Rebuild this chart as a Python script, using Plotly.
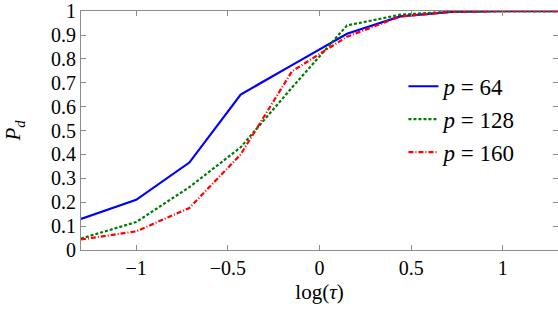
import plotly.graph_objects as go

log_tau = [-1.301, -1.0, -0.71, -0.43, -0.15, 0.15, 0.44, 0.72, 1.0, 1.301]
pd_64 = [0.13, 0.21, 0.366, 0.651, 0.774, 0.905, 0.978, 0.997, 1.0, 1.0]
pd_128 = [0.048, 0.117, 0.263, 0.43, 0.68, 0.94, 0.985, 0.998, 1.0, 1.0]
pd_160 = [0.044, 0.078, 0.176, 0.40, 0.748, 0.893, 0.977, 0.997, 1.0, 1.0]
y_ticks = [0, 0.1, 0.2, 0.3, 0.4, 0.5, 0.6, 0.7, 0.8, 0.9, 1]
y_tick_labels = ["0", "0.1", "0.2", "0.3", "0.4", "0.5", "0.6", "0.7", "0.8", "0.9", "1"]
x_ticks = [-1, -0.5, 0, 0.5, 1]

series = [
    ("<i>p</i> = 64", pd_64, "#0000ff", "solid"),
    ("<i>p</i> = 128", pd_128, "#007a00", "3px,2px"),
    ("<i>p</i> = 160", pd_160, "#ff0000", "5px,2px,1px,2px"),
]

fig = go.Figure()
for name, ys, color, dash in series:
    fig.add_trace(go.Scatter(x=log_tau, y=ys, mode="lines", name=name,
                             line=dict(color=color, width=2.2, dash=dash)))

font_family = "Liberation Serif"
axis_common = dict(showline=True, linecolor="#8c8c8c", linewidth=1, mirror="ticks",
                   ticks="inside", ticklen=5, tickcolor="#8c8c8c", showgrid=False,
                   zeroline=False, automargin=False, ticklabeloverflow="allow",
                   tickfont=dict(family=font_family, size=20, color="black"))

fig.update_layout(
    width=558, height=312,
    margin=dict(l=81, r=0, t=11, b=62),
    paper_bgcolor="white", plot_bgcolor="white",
    font=dict(family=font_family, color="black"),
    xaxis=dict(range=[-1.301, 1.301], tickvals=x_ticks,
               title=dict(text="log(<i>τ</i>)", font=dict(size=21, family=font_family), standoff=6),
               **axis_common),
    yaxis=dict(range=[0, 1.0005], tickmode="array", tickvals=y_ticks, ticktext=y_tick_labels,
               title=dict(text="<i>P</i><sub><i>d</i></sub>", font=dict(size=21, family=font_family), standoff=24),
               **axis_common),
    legend=dict(x=0.676, y=0.775, xanchor="left", yanchor="top",
                bgcolor="rgba(0,0,0,0)", font=dict(size=23, family=font_family),
                tracegroupgap=0, itemwidth=30),
    showlegend=True,
)

fig.write_html("out.html", config={"displayModeBar": False},
               post_script="document.body.style.margin='0';document.body.style.overflow='hidden';")
